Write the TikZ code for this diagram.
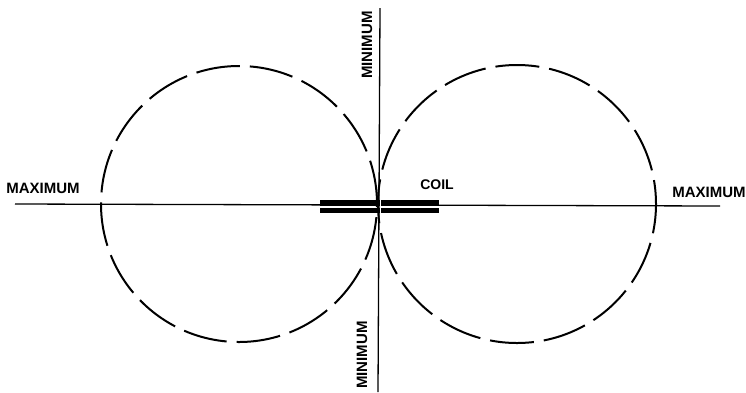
\documentclass[tikz,border=0pt]{standalone}
\usepackage{fontspec}
\setmainfont{Liberation Sans}
\usetikzlibrary{positioning}

\begin{document}
\begin{tikzpicture}[x=1pt, y=-1pt,
        lobe/.style={line width=2pt, dash pattern=on 44pt off 10pt},
        axis/.style={line width=1.3pt},
        lbl/.style={font=\fontsize{15}{15}\selectfont\bfseries, inner sep=0pt}
    ]
    \useasboundingbox (0,0) rectangle (746,392);

    % axes
    \coordinate (west) at (15,204);
    \coordinate (east) at (720,206);
    \coordinate (north) at (380,8);
    \coordinate (south) at (378,392);
    \draw[axis] (west) -- (east);
    \draw[axis] (north) -- (south);

    % radiation pattern
    \draw[lobe] (239,204) circle[radius=138pt];
    \draw[lobe, dash phase=20pt] (517,204) circle[radius=139pt];

    % coil
    \fill (320,200) rectangle (439,205.5);
    \fill (320,207.5) rectangle (439,213);
    \draw[white, line width=1pt] (380,199) -- (380,214);

    % labels
    \node[lbl] (maxl) at (43,188) {MAXIMUM};
    \node[lbl] (maxr) at (709,192) {MAXIMUM};
    \node[lbl, font=\fontsize{14}{14}\selectfont\bfseries] (coil) at (437,185) {COIL};
    \node[lbl, rotate=90] (mint) at (367,45) {MINIMUM};
    \node[lbl, rotate=90] (minb) at (362,355) {MINIMUM};
\end{tikzpicture}
\end{document}
